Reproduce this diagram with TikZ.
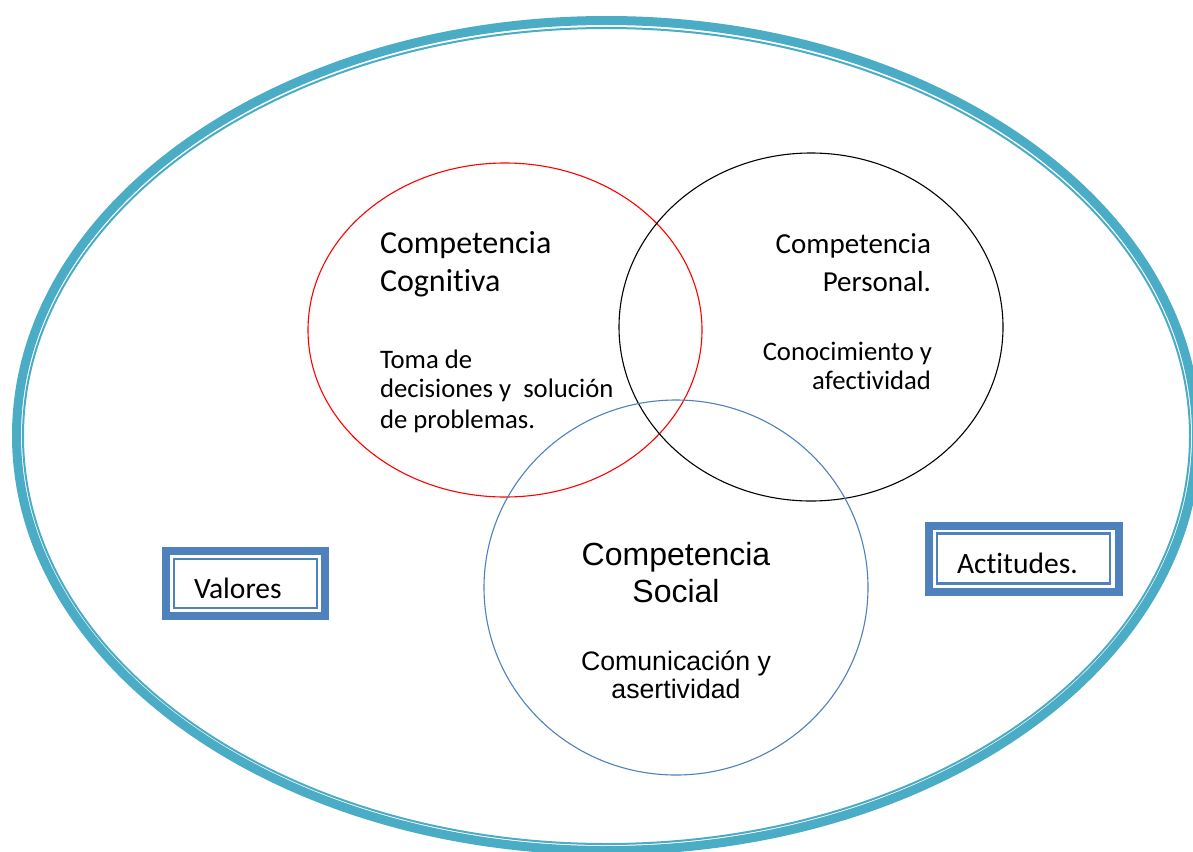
\documentclass[tikz,border=0pt]{standalone}
\usepackage{fontspec}
\setmainfont{Carlito}[Ligatures=NoCommon]
\newfontfamily\arialf{Liberation Sans}
\definecolor{aqua}{HTML}{4BACC6}
\definecolor{officeblue}{HTML}{4F81BD}
\begin{document}
\begin{tikzpicture}[x=1pt,y=-1pt,
  txt/.style={inner sep=0pt,outer sep=0pt},
  ring/.style={line width=1.1pt},
  framebox/.style={draw=officeblue,line width=8pt,inner sep=0pt,outer sep=0pt},
  frameinner/.style={draw=officeblue,line width=2.5pt},
  bigc/.style={txt,font=\fontsize{32}{38}\selectfont},
  bigp/.style={txt,font=\fontsize{29}{36}\selectfont},
  smallc/.style={txt,font=\fontsize{26.7}{31}\selectfont},
  smallp/.style={txt,font=\fontsize{26.7}{30}\selectfont},
  bigs/.style={txt,font=\arialf\fontsize{32}{37}\selectfont},
  smalls/.style={txt,font=\arialf\fontsize{26.7}{31}\selectfont},
  boxtxt/.style={txt,font=\fontsize{29.5}{34}\selectfont}]
\useasboundingbox (0,0) rectangle (1193,851);
\clip (0,0) rectangle (1193,851);
\fill[white] (0,0) rectangle (1193,851);
% outer double ellipse
\draw[aqua,line width=9pt] (606.5,435.5) ellipse [x radius=590pt, y radius=415pt];
\draw[aqua,line width=2pt] (606.5,436) ellipse [x radius=583.5pt, y radius=408pt];
% three circles
\draw[ring,red] (505,330) ellipse [x radius=197pt, y radius=167pt];
\draw[ring,black] (811,327) ellipse [x radius=192pt, y radius=174pt];
\draw[ring,officeblue] (676,587.5) ellipse [x radius=192pt, y radius=187.5pt];
% cognitive
\node[bigc,anchor=base west] (cog1) at (380,253) {Competencia};
\node[bigc,anchor=base west] (cog2) at (380,291) {Cognitiva};
\node[smallc,anchor=base west] (cog3) at (380,368) {Toma de};
\node[smallc,anchor=base west] (cog4) at (380,397) {decisiones y\ \ solución};
\node[smallc,anchor=base west] (cog5) at (380,428) {de problemas.};
% personal
\node[bigp,anchor=base east] (per1) at (931,253) {Competencia};
\node[bigp,anchor=base east] (per2) at (931,291) {Personal.};
\node[smallp,anchor=base east] (per3) at (932,360) {Conocimiento y};
\node[smallp,anchor=base east] (per4) at (931,389) {afectividad};
% social
\node[bigs,anchor=base] (soc1) at (676,565) {Competencia};
\node[bigs,anchor=base] (soc2) at (676,602) {Social};
\node[smalls,anchor=base] (soc3) at (676,670) {Comunicación y};
\node[smalls,anchor=base] (soc4) at (676,698) {asertividad};
% Valores box
\node[framebox,minimum width=159pt,minimum height=65pt] (valbox) at (245.5,583.5) {};
\draw[frameinner] ([shift={(8,8)}]valbox.north west) rectangle ([shift={(-8,-8)}]valbox.south east);
\node[boxtxt,anchor=base west] (val) at (194,598) {Valores};
% Actitudes box
\node[framebox,minimum width=190pt,minimum height=65.5pt] (actbox) at (1024,558.75) {};
\draw[frameinner] ([shift={(8,7.5)}]actbox.north west) rectangle ([shift={(-9,-8)}]actbox.south east);
\node[boxtxt,anchor=base west] (act) at (957,573) {Actitudes.};
\end{tikzpicture}
\end{document}
